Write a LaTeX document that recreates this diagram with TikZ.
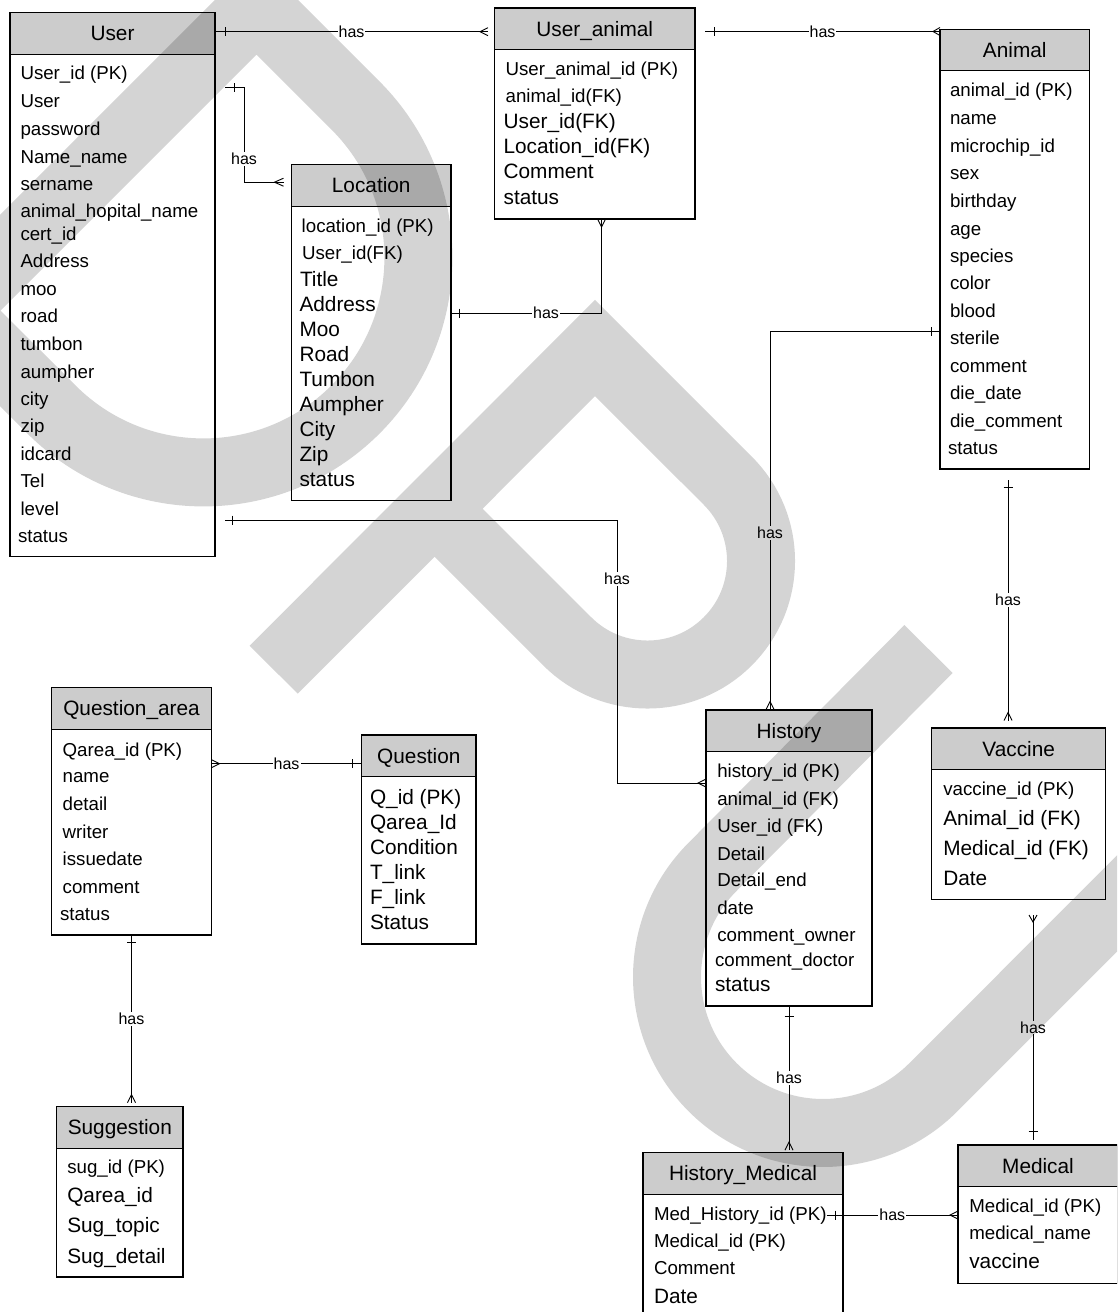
\documentclass[tikz,border=0pt]{standalone}
\usepackage{fontspec}
\setmainfont{Liberation Sans}
\usetikzlibrary{calc}

\definecolor{hdrgray}{RGB}{204,204,204}
\newcommand\rowS{\fontsize{18.7}{18.7}\selectfont}
\newcommand\rowL{\fontsize{20.8}{20.8}\selectfont}

\tikzset{
  ent/.style={draw=black, line width=1.2pt, fill=white, inner sep=0pt, outer sep=0pt},
  hdr/.style={ent, fill=hdrgray, minimum height=41.5, font=\rowL,
              text height=14.9pt, text depth=0pt},
  row/.style={anchor=base west, inner sep=0pt, outer sep=0pt},
  conn/.style={draw=black, line width=0.9pt},
  lbl/.style={fill=white, inner sep=1pt, font=\fontsize{16}{16}\selectfont},
  wm/.style={draw=black, draw opacity=0.17, line width=68pt, line join=miter, line cap=butt}
}

% entity: name, x1, y1, x2, y2, title  (header on top, body below)
\newcommand\entity[6]{%
  \node[hdr, minimum width={#4-#2}, anchor=north west] (#1-h) at (#2,#3) {#6};
  \node[ent, minimum width={#4-#2}, minimum height={#5-#3-41.5}, anchor=north west] (#1) at (#1-h.south west) {};
}
% attribute rows: entity name, list of x/baseline/size/text
\newcommand\attrs[2]{%
  \foreach \xx/\yy/\sz/\txt [count=\k] in {#2} {
    \node[row, font=\csname row\sz\endcsname] (#1-r\k) at (\xx,\yy) {\txt};
  }
}
% ER end marks
\newcommand\erbarH[2]{\draw[conn] ($(#1)+(#2,-4.5)$) -- ($(#1)+(#2,4.5)$);}
\newcommand\erbarV[2]{\draw[conn] ($(#1)+(-4.5,#2)$) -- ($(#1)+(4.5,#2)$);}
\newcommand\ercrowH[2]{\draw[conn] ($(#1)+(0,-4)$) -- ($(#1)+(#2,0)$) -- ($(#1)+(0,4)$);}
\newcommand\ercrowV[2]{\draw[conn] ($(#1)+(-4,0)$) -- ($(#1)+(0,#2)$) -- ($(#1)+(4,0)$);}

\begin{document}
\begin{tikzpicture}[x=1pt, y=-1pt]
\fill[white] (0,0) rectangle (1117,1312);
\path[use as bounding box, clip] (0,0) rectangle (1117,1312);

% ---------------- entities ----------------
\entity{user}{10}{12.7}{215}{556.7}{User}
\attrs{user}{20.5/79/S/{User\_id (PK)}, 20.5/107/S/User, 20.5/135/S/password,
  20.5/163/S/{Name\_name}, 20.5/190/S/sername, 20.5/217/S/{animal\_hopital\_name},
  20.5/240/S/{cert\_id}, 20.5/267/S/Address, 20.5/295/S/moo, 20.5/322/S/road,
  20.5/350/S/tumbon, 20.5/378/S/aumpher, 20.5/405/S/city, 20.5/432/S/zip,
  20.5/460/S/idcard, 20.5/487/S/Tel, 20.5/515/S/level, 18/542/S/status}

\entity{ua}{494.5}{8}{695}{219}{User\_animal}
\attrs{ua}{505.6/75/S/{User\_animal\_id (PK)}, 505.6/102.7/S/{animal\_id(FK)},
  503.6/128.3/L/{User\_id(FK)}, 503.6/153.3/L/{Location\_id(FK)},
  503.6/178.3/L/Comment, 503.6/204/L/status}

\entity{animal}{940}{29.3}{1089.5}{469}{Animal}
\attrs{animal}{950/96/S/{animal\_id (PK)}, 950/124/S/name, 950/152/S/{microchip\_id},
  950/179/S/sex, 950/207/S/birthday, 950/235/S/age, 950/262/S/species,
  950/289/S/color, 950/317/S/blood, 950/344/S/sterile, 950/372/S/comment,
  950/399/S/{die\_date}, 950/427/S/{die\_comment}, 948/454/S/status}

\entity{loc}{291.5}{164.7}{451}{500.5}{Location}
\attrs{loc}{301.7/232.3/S/{location\_id (PK)}, 302/259/S/{User\_id(FK)},
  300/286/L/Title, 299.5/311/L/Address, 299.5/336/L/Moo, 299.5/361/L/Road,
  299.5/386/L/Tumbon, 299.5/411/L/Aumpher, 299.5/436/L/City, 299.5/461/L/Zip,
  299.5/486/L/status}

\entity{qa}{51.5}{687.7}{211.5}{935}{Question\_area}
\attrs{qa}{62.7/756/S/{Qarea\_id (PK)}, 62.7/782/S/name, 62.7/810/S/detail,
  62.7/838/S/writer, 62.7/865/S/issuedate, 62.7/893/S/comment, 60/920/S/status}

\entity{q}{361.7}{735}{476}{944}{Question}
\attrs{q}{370/804/L/{Q\_id (PK)}, 370/829/L/{Qarea\_Id}, 370/854/L/Condition,
  370/879/L/{T\_link}, 370/904/L/{F\_link}, 370/929/L/Status}

\entity{sug}{56.7}{1106.7}{183}{1277}{Suggestion}
\attrs{sug}{67.3/1173.3/S/{sug\_id (PK)}, 67.3/1202.7/L/{Qarea\_id},
  67.3/1232.7/L/{Sug\_topic}, 67.3/1263.3/L/{Sug\_detail}}

\entity{hist}{706}{710}{872}{1006}{History}
\attrs{hist}{717.3/777.7/S/{history\_id (PK)}, 717.3/805/S/{animal\_id (FK)},
  717.3/832.3/S/{User\_id (FK)}, 717.3/860/S/Detail, 717.3/886.7/S/{Detail\_end},
  717.3/914.3/S/date, 717.3/941.7/S/{comment\_owner}, 715/966.7/S/{comment\_doctor},
  715/991.7/L/status}

\entity{vac}{931.7}{728}{1105.7}{899.5}{Vaccine}
\attrs{vac}{943.3/795/S/{vaccine\_id (PK)}, 943.3/825/L/{Animal\_id (FK)},
  943.3/855/L/{Medical\_id (FK)}, 943.3/885/L/Date}

\entity{hm}{643}{1152.7}{843}{1330}{History\_Medical}
\attrs{hm}{654/1220/S/{Med\_History\_id (PK)}, 654/1247.3/S/{Medical\_id (PK)},
  654/1274/S/Comment, 654/1303.3/L/Date}

\entity{med}{958}{1145}{1118}{1283.5}{Medical}
\attrs{med}{969.3/1212.3/S/{Medical\_id (PK)}, 969.3/1239.3/S/{medical\_name},
  969.3/1268.3/L/vaccine}

% ---------------- relationships ----------------
% User -- User_animal
\coordinate (c1a) at ($(user-h.north east)+(0,19)$);
\coordinate (c1b) at ($(c1a -| ua-h.west)+(-6.5,0)$);
\draw[conn] (c1a) -- (c1b);
\erbarH{c1a}{10} \ercrowH{c1b}{-8}
\node[lbl] (l1) at ($(c1a)!0.5!(c1b)$) {has};

% User_animal -- Animal
\coordinate (c2a) at ($(ua-h.north east)+(10,23.5)$);
\coordinate (c2b) at (c2a -| animal-h.west);
\draw[conn] (c2a) -- (c2b);
\erbarH{c2a}{9} \ercrowH{c2b}{-7}
\node[lbl] (l2) at ($(c2a)!0.5!(c2b)$) {has};

% User -- Location
\coordinate (c3a) at ($(user.north east)+(10,33.5)$);
\coordinate (c3b) at ($(loc-h.north west)+(-8,17.5)$);
\coordinate (c3k) at ($(c3b)+(-39.5,0)$);
\draw[conn] (c3a) -| (c3k) -- (c3b);
\erbarH{c3a}{9} \ercrowH{c3b}{-9}
\node[lbl] (l3) at ($(c3k)+(0,-23)$) {has};

% Location -- User_animal
\coordinate (c4a) at ($(loc.north east)+(0,107)$);
\coordinate (c4b) at ($(ua.south west)+(107,0)$);
\draw[conn] (c4a) -| (c4b);
\erbarH{c4a}{8} \ercrowV{c4b}{8}
\node[lbl] (l4) at ($(c4a)+(95,0)$) {has};

% User -- History
\coordinate (c5a) at ($(user.north east)+(10,466)$);
\coordinate (c5b) at ($(hist.north west)+(0,31.5)$);
\coordinate (c5k) at ($(c5b)+(-89,0)$);
\draw[conn] (c5a) -| (c5k) -- (c5b);
\erbarH{c5a}{7} \ercrowH{c5b}{-8}
\node[lbl] (l5) at ($(c5k)+(0,-204)$) {has};

% Animal -- History
\coordinate (c6a) at ($(animal.north west)+(0,261)$);
\coordinate (c6b) at ($(hist-h.north west)+(64,-0.5)$);
\draw[conn] (c6a) -| (c6b);
\erbarH{c6a}{-9} \ercrowV{c6b}{-8}
\node[lbl] (l6) at ($(c6b)+(0,-176.5)$) {has};

% Animal -- Vaccine
\coordinate (c7a) at ($(animal.south west)+(68,11)$);
\coordinate (c7b) at ($(c7a |- vac-h.north)+(0,-7.5)$);
\draw[conn] (c7a) -- (c7b);
\erbarV{c7a}{7} \ercrowV{c7b}{-8}
\node[lbl] (l7) at ($(c7a)!0.5!(c7b)$) {has};

% Vaccine -- Medical
\coordinate (c8a) at ($(vac.south west)+(101.3,15.5)$);
\coordinate (c8b) at ($(c8a |- med-h.north)+(0,-5)$);
\draw[conn] (c8a) -- (c8b);
\ercrowV{c8a}{7} \erbarV{c8b}{-9}
\node[lbl] (l8) at ($(c8a)!0.5!(c8b)$) {has};

% History -- History_Medical
\coordinate (c9a) at ($(hist.south west)+(83,0)$);
\coordinate (c9b) at ($(c9a |- hm-h.north)+(0,-2.5)$);
\draw[conn] (c9a) -- (c9b);
\erbarV{c9a}{10} \ercrowV{c9b}{-8}
\node[lbl] (l9) at ($(c9a)!0.5!(c9b)$) {has};

% History_Medical -- Medical
\coordinate (c10a) at ($(hm.north west)+(183.5,20.8)$);
\coordinate (c10b) at (c10a -| med.west);
\draw[conn] (c10a) -- (c10b);
\erbarH{c10a}{8.5} \ercrowH{c10b}{-8}
\node[lbl] (l10) at ($(c10a)!0.5!(c10b)$) {has};

% Question_area -- Question
\coordinate (c11a) at ($(qa.north east)+(0,34.5)$);
\coordinate (c11b) at (c11a -| q-h.west);
\draw[conn] (c11a) -- (c11b);
\ercrowH{c11a}{8} \erbarH{c11b}{-9}
\node[lbl] (l11) at ($(c11a)!0.5!(c11b)$) {has};

% Question_area -- Suggestion
\coordinate (c12a) at ($(qa.south west)+(80,0)$);
\coordinate (c12b) at ($(c12a |- sug-h.north)+(0,-4)$);
\draw[conn] (c12a) -- (c12b);
\erbarV{c12a}{7} \ercrowV{c12b}{-8}
\node[lbl] (l12) at ($(c12a)!0.5!(c12b)$) {has};

% ---------------- watermark letters ----------------
% D
\draw[wm] (-47.6,310.6) -- (256.5,6.5) -- (355.5,105.5)
  .. controls (439.4,189.4) and (439.4,325.6) .. (355.5,409.5)
  .. controls (271.6,493.4) and (135.4,493.4) .. (51.5,409.5) -- cycle;
% P
\draw[wm] (273.7,669.7) -- (595,348) -- (727.8,480.7)
  .. controls (772.1,525) and (772.1,597) .. (727.8,641.3)
  .. controls (683.5,685.6) and (611.5,685.6) .. (567.2,641.3) -- (435,509.1);
% U
\draw[wm] (928.5,649) -- (712.7,866.7)
  .. controls (651.8,927.6) and (651.8,1026.4) .. (712.7,1087.3)
  .. controls (773.6,1148.2) and (872.4,1148.2) .. (933.3,1087.3) -- (1149,871.5);
\end{tikzpicture}
\end{document}
